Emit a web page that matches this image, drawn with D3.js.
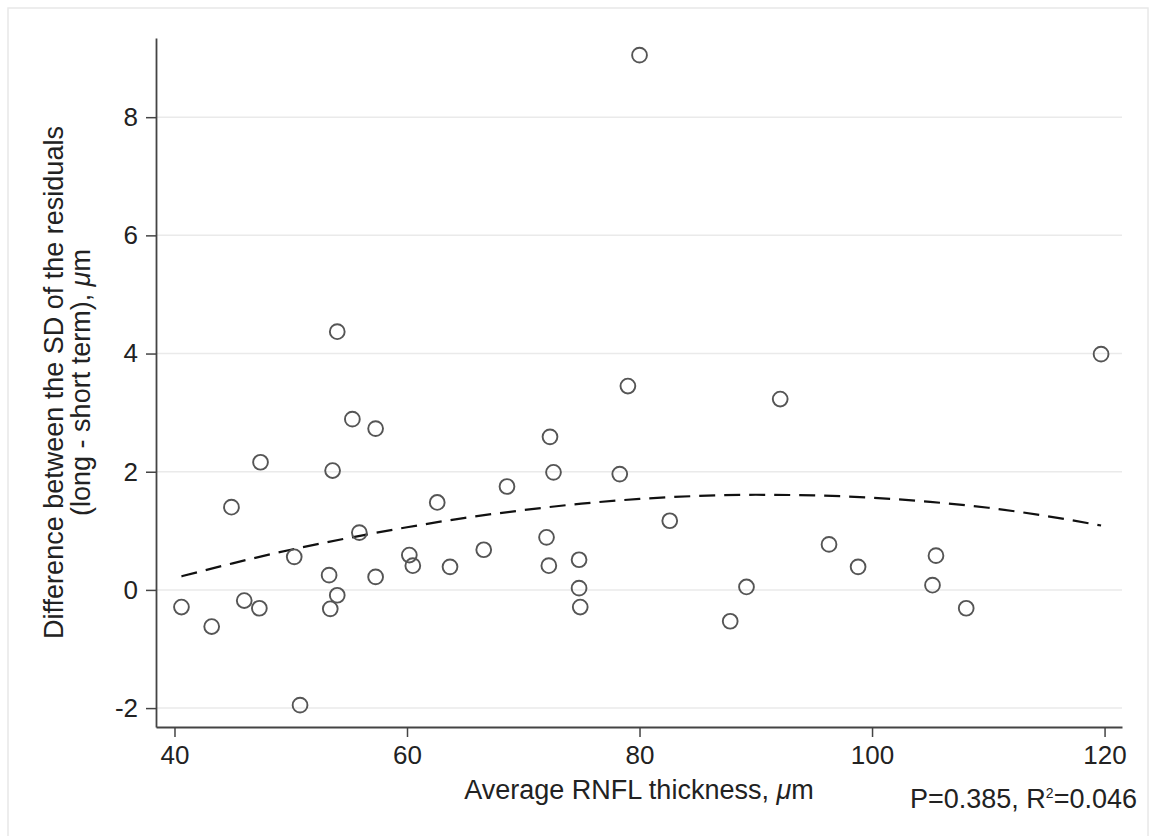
<!DOCTYPE html>
<html>
<head>
<meta charset="utf-8">
<script src="https://cdn.jsdelivr.net/npm/d3@7"></script>
<style>
  body { margin: 0; background: #fff; }
  svg { display: block; font-family: "Liberation Sans", Arial, Helvetica, sans-serif; }
</style>
</head>
<body>
<div id="container"></div>
<script>
// RNFL thickness (x) and difference of residual SD (y)
const thickness = [40.6, 43.2, 44.9, 46.0, 47.3, 47.4, 50.3, 50.8, 53.3, 53.4, 53.6, 54.0, 54.0,
  55.3, 55.9, 57.3, 57.3, 60.2, 60.5, 62.6, 63.7, 66.6, 68.6, 72.0, 72.2, 72.3, 72.6, 74.8,
  74.8, 74.9, 78.3, 79.0, 80.0, 82.6, 87.8, 89.2, 92.1, 96.3, 98.8, 105.2, 105.5, 108.1, 119.7];
const sdDiff = [-0.29, -0.62, 1.40, -0.18, -0.31, 2.16, 0.56, -1.95, 0.25, -0.32, 2.02, 4.37, -0.09,
  2.89, 0.97, 2.73, 0.22, 0.59, 0.41, 1.48, 0.39, 0.68, 1.75, 0.89, 0.41, 2.59, 1.99, 0.51,
  0.03, -0.29, 1.96, 3.45, 9.05, 1.17, -0.53, 0.05, 3.23, 0.77, 0.39, 0.08, 0.58, -0.31, 3.99];

// dashed fitted curve
const fitX = [40.6, 45, 50, 55, 60, 65, 70, 75, 80, 85, 90, 95, 100, 105, 110, 115, 119.7];
const fitY = [0.23, 0.45, 0.68, 0.88, 1.06, 1.22, 1.35, 1.46, 1.54, 1.59, 1.61, 1.60, 1.56, 1.49, 1.39, 1.25, 1.09];

const xTicks = [40, 60, 80, 100, 120];
const yTicks = [-2, 0, 2, 4, 6, 8];

const w = 1151;
const h = 836;
const plot = { left: 156, right: 1122, top: 38, bottom: 727 };

const xScale = d3.scaleLinear().domain([38.41, 121.5]).range([plot.left, plot.right]);
const yScale = d3.scaleLinear().domain([-2.32, 9.34]).range([plot.bottom, plot.top]);

const svg = d3.select("#container")
  .append("svg")
  .attr("width", w)
  .attr("height", h);

svg.append("rect").attr("width", w).attr("height", h).attr("fill", "#fff");

// light outer frame
svg.append("rect")
  .attr("x", 8).attr("y", 8)
  .attr("width", 1140).attr("height", 840)
  .attr("fill", "none")
  .attr("stroke", "#e8e8e8")
  .attr("stroke-width", 1.5);

// gridlines
svg.append("g")
  .selectAll("line")
  .data(yTicks)
  .enter()
  .append("line")
  .attr("x1", plot.left)
  .attr("x2", plot.right)
  .attr("y1", (d) => yScale(d))
  .attr("y2", (d) => yScale(d))
  .attr("stroke", "#eaeaea")
  .attr("stroke-width", 1.5);

// axes
const xAxis = svg.append("g")
  .attr("transform", `translate(0, ${plot.bottom})`)
  .call(d3.axisBottom(xScale).tickValues(xTicks).tickSize(10).tickPadding(9).tickSizeOuter(0));

const yAxis = svg.append("g")
  .attr("transform", `translate(${plot.left}, 0)`)
  .call(d3.axisLeft(yScale).tickValues(yTicks).tickFormat((d) => String(d))
    .tickSize(10).tickPadding(8).tickSizeOuter(0));

[xAxis, yAxis].forEach((g) => {
  g.select(".domain").attr("stroke", "#444").attr("stroke-width", 1.8);
  g.selectAll(".tick line").attr("stroke", "#444").attr("stroke-width", 1.5);
  g.selectAll(".tick text")
    .attr("fill", "#222")
    .style("font-size", "26px")
    .style("font-family", "'Liberation Sans', Arial, Helvetica, sans-serif");
});

// fitted curve
const line = d3.line()
  .x((d, i) => xScale(fitX[i]))
  .y((d, i) => yScale(fitY[i]))
  .curve(d3.curveMonotoneX);

svg.append("path")
  .datum(fitX)
  .attr("d", line)
  .attr("fill", "none")
  .attr("stroke", "#111")
  .attr("stroke-width", 2.2)
  .attr("stroke-dasharray", "16 9");

// points
svg.append("g")
  .selectAll("circle")
  .data(thickness)
  .enter()
  .append("circle")
  .attr("cx", (d) => xScale(d))
  .attr("cy", (d, i) => yScale(sdDiff[i]))
  .attr("r", 7.4)
  .attr("fill", "none")
  .attr("stroke", "#555")
  .attr("stroke-width", 1.9);

// x label
const xLab = svg.append("text")
  .attr("x", 639)
  .attr("y", 799)
  .attr("text-anchor", "middle")
  .attr("fill", "#222")
  .style("font-size", "27px");
xLab.append("tspan").text("Average RNFL thickness, ");
xLab.append("tspan").style("font-style", "italic").text("μ");
xLab.append("tspan").text("m");

// y label, two lines
const yLab = svg.append("text")
  .attr("transform", `translate(0, ${(plot.top + plot.bottom) / 2}) rotate(-90)`)
  .attr("text-anchor", "middle")
  .attr("fill", "#222")
  .style("font-size", "27px");
yLab.append("tspan").attr("x", 0).attr("y", 63).text("Difference between the SD of the residuals");
const l2 = yLab.append("tspan").attr("x", 0).attr("y", 90);
l2.append("tspan").text("(long - short term), ");
l2.append("tspan").style("font-style", "italic").text("μ");
l2.append("tspan").text("m");

// stats annotation
const stat = svg.append("text")
  .attr("x", 1137)
  .attr("y", 808)
  .attr("text-anchor", "end")
  .attr("fill", "#222")
  .style("font-size", "27px");
stat.append("tspan").text("P=0.385, R");
stat.append("tspan").attr("dy", -10).style("font-size", "14px").text("2");
stat.append("tspan").attr("dy", 10).text("=0.046");
</script>
</body>
</html>
